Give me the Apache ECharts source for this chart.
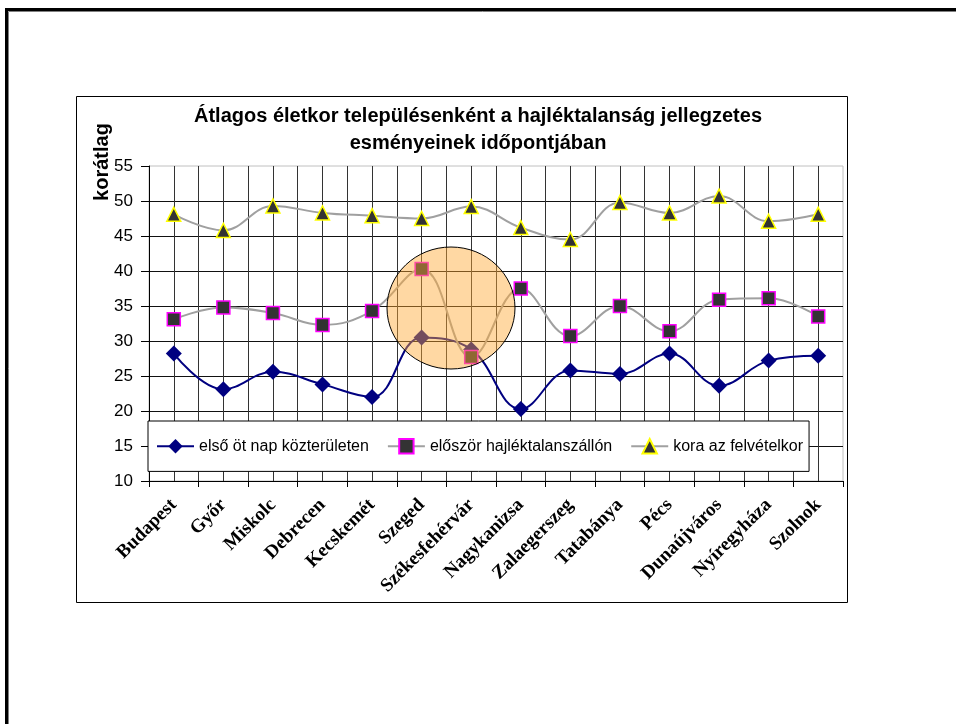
<!DOCTYPE html>
<html>
<head>
<meta charset="utf-8">
<script src="https://cdn.jsdelivr.net/npm/echarts@6/dist/echarts.min.js"></script>
<style>
  html, body { margin: 0; padding: 0; background: #fff; }
  #chart { width: 956px; height: 724px; }
</style>
</head>
<body>
<div id="chart"></div>
<script>
const categories = ['Budapest', 'Győr', 'Miskolc', 'Debrecen', 'Kecskemét', 'Szeged', 'Székesfehérvár',
  'Nagykanizsa', 'Zalaegerszeg', 'Tatabánya', 'Pécs', 'Dunaújváros', 'Nyíregyháza', 'Szolnok']
const elsoOtNap = [28.2, 23.1, 25.6, 23.8, 22.0, 30.5, 28.8, 20.3, 25.8, 25.3, 28.2, 23.6, 27.2, 27.9]
const eloszorSzallon = [33.1, 34.8, 34.0, 32.3, 34.3, 40.3, 27.7, 37.5, 30.7, 35.0, 31.4, 35.9, 36.1, 33.5]
const koraFelvetel = [48.1, 45.8, 49.3, 48.3, 47.9, 47.5, 49.2, 46.2, 44.5, 49.8, 48.3, 50.7, 47.1, 48.1]
const yTicks = { min: 10, max: 55, step: 5 }

const SANS = 'Liberation Sans, Arial, sans-serif'
const SERIF = 'Liberation Serif, Times New Roman, serif'

const lineBase = {
  type: 'line',
  smooth: 0.4,
  showSymbol: true,
  z: 3,
}

const chart = echarts.init(document.getElementById('chart'), null, { renderer: 'canvas' })

const option = {
  backgroundColor: '#fff',
  animation: false,
  title: {
    text: 'Átlagos életkor településenként a hajléktalanság jellegzetes\nesményeinek időpontjában',
    left: 'center',
    top: 103,
    padding: 0,
    textStyle: { fontFamily: SANS, fontSize: 20, fontWeight: 'bold', color: '#000', lineHeight: 27 },
  },
  legend: {
    left: 148,
    top: 421,
    padding: [17, 6, 17, 8],
    itemGap: 18,
    itemWidth: 37,
    itemHeight: 18,
    backgroundColor: '#fff',
    borderColor: '#000',
    borderWidth: 1,
    textStyle: { fontFamily: SANS, fontSize: 16, color: '#000' },
    data: ['első öt nap közterületen', 'először hajléktalanszállón', 'kora az felvételkor'],
  },
  grid: {
    left: 149,
    top: 166,
    right: 113,
    bottom: 243,
    show: true,
    borderColor: '#c0c0c0',
    borderWidth: 1,
    containLabel: false,
  },
  xAxis: [
    {
      type: 'category',
      data: categories,
      boundaryGap: true,
      axisLine: { lineStyle: { color: '#000', width: 1 } },
      axisTick: { show: true, length: 6, lineStyle: { color: '#000' } },
      axisLabel: {
        interval: 0,
        rotate: 45,
        margin: 21,
        fontFamily: SERIF,
        fontWeight: 'bold',
        fontSize: 19,
        color: '#000',
      },
      splitLine: { show: false },
      z: 4,
    },
    {
      // half-category grid lines, as in the original sheet
      type: 'value',
      min: 0,
      max: categories.length,
      interval: 0.5,
      axisLine: { show: false },
      axisTick: { show: false },
      axisLabel: { show: false },
      splitLine: { show: true, showMinLine: false, showMaxLine: false, lineStyle: { color: '#333', width: 1 } },
    },
  ],
  yAxis: {
    type: 'value',
    min: yTicks.min,
    max: yTicks.max,
    interval: yTicks.step,
    axisLine: { show: true, lineStyle: { color: '#000' } },
    axisTick: { show: true, length: 8, lineStyle: { color: '#000' } },
    axisLabel: { fontFamily: SANS, fontSize: 17, color: '#000', margin: 16 },
    splitLine: { show: true, showMinLine: false, showMaxLine: false, lineStyle: { color: '#111', width: 1 } },
  },
  series: [
    {
      ...lineBase,
      name: 'első öt nap közterületen',
      data: elsoOtNap,
      symbol: 'diamond',
      symbolSize: 16,
      lineStyle: { color: '#000080', width: 2 },
      itemStyle: { color: '#000080' },
    },
    {
      ...lineBase,
      name: 'először hajléktalanszállón',
      data: eloszorSzallon,
      symbol: 'rect',
      symbolSize: 13,
      lineStyle: { color: '#a0a0a0', width: 2 },
      itemStyle: { color: '#333333', borderColor: '#ff00ff', borderWidth: 1.5 },
    },
    {
      ...lineBase,
      name: 'kora az felvételkor',
      data: koraFelvetel,
      symbol: 'triangle',
      symbolSize: 14,
      lineStyle: { color: '#a0a0a0', width: 2 },
      itemStyle: { color: '#333333', borderColor: '#ffff00', borderWidth: 1.5 },
    },
  ],
  graphic: [
    {
      type: 'rect',
      shape: { x: 6.5, y: 9.5, width: 1000, height: 1000 },
      style: { fill: null, stroke: '#000', lineWidth: 3 },
      silent: true,
    },
    {
      type: 'rect',
      shape: { x: 8.5, y: 11.5, width: 1000, height: 1000 },
      style: { fill: null, stroke: '#808080', lineWidth: 1 },
      silent: true,
    },
    {
      type: 'rect',
      shape: { x: 76.5, y: 96.5, width: 771, height: 506 },
      style: { fill: null, stroke: '#000', lineWidth: 1 },
      silent: true,
    },
    {
      type: 'text',
      x: 102,
      y: 162,
      rotation: Math.PI / 2,
      style: {
        text: 'korátlag',
        fontFamily: SANS,
        fontSize: 20,
        fontWeight: 'bold',
        fill: '#000',
        align: 'center',
        verticalAlign: 'middle',
      },
    },
    {
      // highlight ring over Szeged / Székesfehérvár
      type: 'ellipse',
      shape: { cx: 451, cy: 308, rx: 64, ry: 61 },
      style: { fill: 'rgba(255, 168, 51, 0.45)', stroke: '#000', lineWidth: 1 },
      z: 10,
      silent: true,
    },
  ],
}

chart.setOption(option)
</script>
</body>
</html>
